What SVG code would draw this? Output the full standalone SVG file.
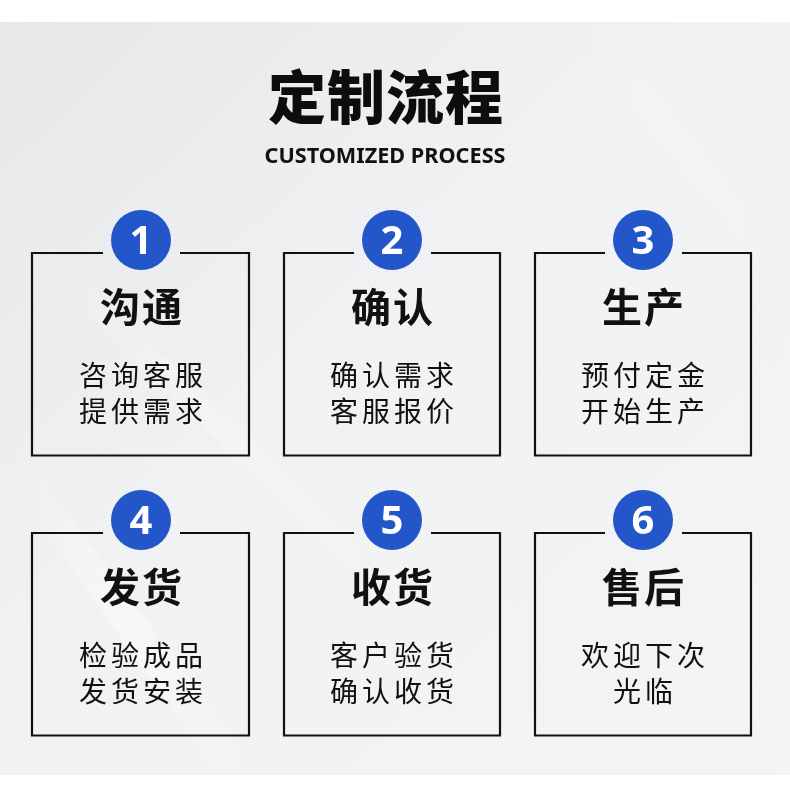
<svg xmlns="http://www.w3.org/2000/svg" width="790" height="788" viewBox="0 0 790 788">
<defs>
<linearGradient id="bg" x1="0" y1="0" x2="1" y2="1">
<stop offset="0" stop-color="#e6e7e9"/>
<stop offset="0.45" stop-color="#f1f2f3"/>
<stop offset="1" stop-color="#f4f4f5"/>
</linearGradient>
<linearGradient id="streak" x1="0" y1="0" x2="1" y2="0">
<stop offset="0" stop-color="#ffffff" stop-opacity="0"/>
<stop offset="0.5" stop-color="#ffffff" stop-opacity="0.7"/>
<stop offset="1" stop-color="#ffffff" stop-opacity="0"/>
</linearGradient>
<style>
.box{fill:none;stroke:#111;stroke-width:2.2}
.circ{fill:#2256c9}
.num{font-family:"Noto Sans","Liberation Sans",sans-serif;font-weight:700;font-size:40px;fill:#fff;text-anchor:middle}
.head{font-family:"Noto Sans CJK SC",sans-serif;font-weight:700;font-size:40px;fill:#111;text-anchor:middle;letter-spacing:2px}
.body{font-family:"Noto Sans CJK SC",sans-serif;font-weight:400;font-size:28px;fill:#111;text-anchor:middle;letter-spacing:4px}
</style>
</defs>
<rect x="0" y="0" width="790" height="788" fill="#fff"/>
<rect x="0" y="22" width="790" height="753" fill="url(#bg)"/>
<g opacity="0.6">
<polygon points="0,420 0,470 220,775 260,775" fill="url(#streak)"/>
<polygon points="0,200 0,230 380,600 420,600" fill="url(#streak)" opacity="0.6"/>
<polygon points="560,22 600,22 790,260 790,300" fill="url(#streak)" opacity="0.5"/>
</g>
<text x="386" y="119" font-family="Noto Sans CJK SC, sans-serif" font-weight="900" font-size="58" fill="#0d0d0d" text-anchor="middle" letter-spacing="1">定制流程</text>
<text x="385" y="163" font-family="Noto Sans, Liberation Sans, sans-serif" font-weight="700" font-size="21" fill="#111" text-anchor="middle" textLength="241" lengthAdjust="spacingAndGlyphs">CUSTOMIZED PROCESS</text>

<g id="step1">
<path class="box" d="M103,253 H32 V455.5 H249 V253 H180"/>
<circle class="circ" cx="141" cy="240" r="30"/>
<text class="num" x="141" y="254">1</text>
<text class="head" x="142" y="322">沟通</text>
<text class="body" x="143" y="386">咨询客服</text>
<text class="body" x="143" y="422">提供需求</text>
</g>
<g id="step2">
<path class="box" d="M354,253 H284 V455.5 H500 V253 H431"/>
<circle class="circ" cx="392" cy="240" r="30"/>
<text class="num" x="392" y="254">2</text>
<text class="head" x="393" y="322">确认</text>
<text class="body" x="394" y="386">确认需求</text>
<text class="body" x="394" y="422">客服报价</text>
</g>
<g id="step3">
<path class="box" d="M605,253 H535 V455.5 H751 V253 H682"/>
<circle class="circ" cx="643" cy="240" r="30"/>
<text class="num" x="643" y="254">3</text>
<text class="head" x="644" y="322">生产</text>
<text class="body" x="645" y="386">预付定金</text>
<text class="body" x="645" y="422">开始生产</text>
</g>
<g id="step4">
<path class="box" d="M103,533 H32 V735.5 H249 V533 H180"/>
<circle class="circ" cx="141" cy="520" r="30"/>
<text class="num" x="141" y="534">4</text>
<text class="head" x="142" y="602">发货</text>
<text class="body" x="143" y="666">检验成品</text>
<text class="body" x="143" y="702">发货安装</text>
</g>
<g id="step5">
<path class="box" d="M354,533 H284 V735.5 H500 V533 H431"/>
<circle class="circ" cx="392" cy="520" r="30"/>
<text class="num" x="392" y="534">5</text>
<text class="head" x="393" y="602">收货</text>
<text class="body" x="394" y="666">客户验货</text>
<text class="body" x="394" y="702">确认收货</text>
</g>
<g id="step6">
<path class="box" d="M605,533 H535 V735.5 H751 V533 H682"/>
<circle class="circ" cx="643" cy="520" r="30"/>
<text class="num" x="643" y="534">6</text>
<text class="head" x="644" y="602">售后</text>
<text class="body" x="645" y="666">欢迎下次</text>
<text class="body" x="645" y="702">光临</text>
</g>
<g id="connectors"/>
</svg>
